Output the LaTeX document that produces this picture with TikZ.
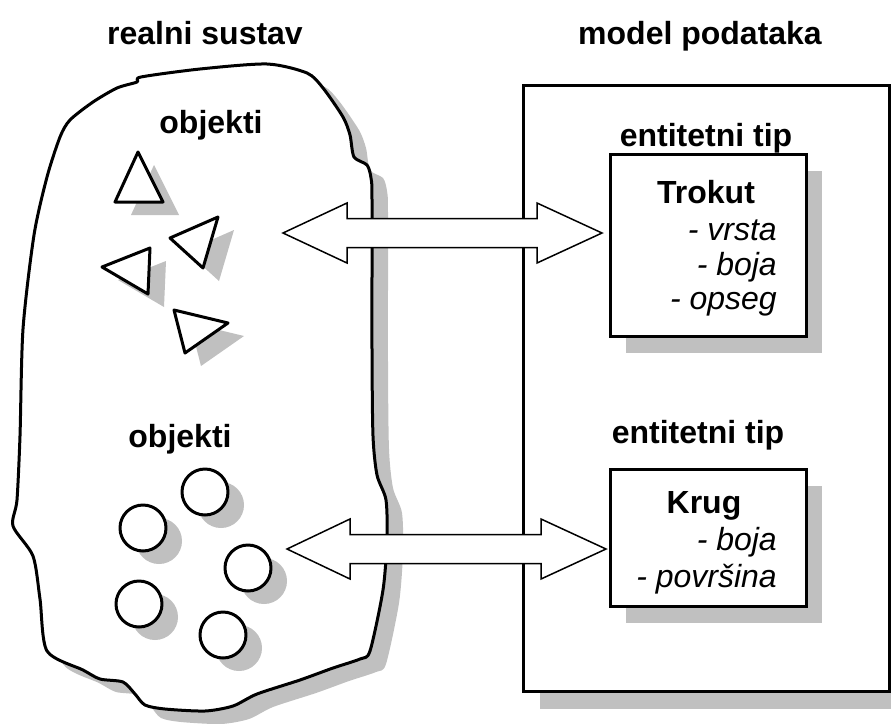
\documentclass[tikz,border=0pt]{standalone}
\usepackage{fontspec}
\setmainfont{Liberation Sans}
\usepackage{tikz}

\definecolor{shadowgray}{RGB}{192,192,192}
\tikzset{
  outline/.style={draw=black, fill=white, line width=3pt, line join=round},
  castshadow/.style={preaction={draw=none, fill=shadowgray,
      transform canvas={xshift=16pt, yshift=-13pt}}},
  boxshadow/.style={preaction={draw=none, fill=shadowgray,
      transform canvas={xshift=16pt, yshift=-17pt}}},
  heading/.style={font=\fontsize{32}{38}\selectfont\bfseries, anchor=base, inner sep=0pt},
  attr/.style={font=\fontsize{32}{38}\selectfont\itshape, anchor=base east, inner sep=0pt},
  obj/.style={circle, outline, castshadow, minimum size=46pt, inner sep=0pt},
  entbox/.style={rectangle, outline, line join=miter, boxshadow, inner sep=0pt},
  blockarrow/.style={draw=black, fill=white, line width=1.5pt, line join=miter},
}
% double block arrow: y, left tip, left base, right base, right tip
\newcommand{\dblarrow}[5]{
  \draw[blockarrow] (#2,#1) -- (#3,#1-30) -- (#3,#1-14.5) -- (#4,#1-14.5)
    -- (#4,#1-30) -- (#5,#1) -- (#4,#1+30) -- (#4,#1+14.5) -- (#3,#1+14.5)
    -- (#3,#1+30) -- cycle;
}

\begin{document}
\begin{tikzpicture}[x=1pt,y=-1pt]
\useasboundingbox (0,0) rectangle (891,723);

% titles
\node[heading] (realni) at (205,44) {realni sustav};
\node[heading] (modeltitle) at (700,44) {model podataka};

% real system
\draw[outline, castshadow] plot[smooth cycle, tension=0.45] coordinates {
  (137,82) (141,77) (200,69) (267,64) (307,73) (323,88) (343,117) (350,135)
  (354,157) (367,165) (371,178) (372,200) (372,350) (373,436) (377,475)
  (386,500) (387,540) (383,590) (370,651) (360,659) (333,668) (300,680)
  (257,694) (233,706) (205,711) (165,709) (145,705) (135,694) (123,682)
  (100,679) (83,670) (47,651) (40,599) (33,556) (13,526) (17,500) (20,436)
  (23,329) (34,235) (47,177) (60,137) (70,120) (93,102) (117,88)};

\node[heading] (objekti1) at (211,133) {objekti};
\draw[outline, castshadow] (138,152) -- (115,202) -- (163,202) -- cycle;
\draw[outline, castshadow] (170,238) -- (218,217) -- (203,268) -- cycle;
\draw[outline, castshadow] (102,267) -- (150,248) -- (148,294) -- cycle;
\draw[outline, castshadow] (174,310) -- (228,323) -- (185,353) -- cycle;

\node[heading] (objekti2) at (180,447) {objekti};
\node[obj] (c1) at (205,492) {};
\node[obj] (c2) at (143,528) {};
\node[obj] (c3) at (248,568) {};
\node[obj] (c4) at (139,604) {};
\node[obj] (c5) at (223,635) {};

% data model
\node[entbox, minimum width=366, minimum height=606] (model) at (706.5,388.5) {};

\node[heading] (tip1) at (706,146) {entitetni tip};
\node[entbox, minimum width=196, minimum height=182] (trokut) at (708,245) {};
\node[heading] at (706,203) {Trokut};
\node[attr] at (777,240) {- vrsta};
\node[attr] at (777,275) {- boja};
\node[attr] at (777,309) {- opseg};

\node[heading] (tip2) at (698,443) {entitetni tip};
\node[entbox, minimum width=196, minimum height=137] (krug) at (708,537.5) {};
\node[heading] at (704,513) {Krug};
\node[attr] at (777,550) {- boja};
\node[attr] at (777,587) {- površina};

% mapping
\dblarrow{233}{283}{347}{537}{602}
\dblarrow{549}{287}{350}{541}{606}
\end{tikzpicture}
\end{document}
